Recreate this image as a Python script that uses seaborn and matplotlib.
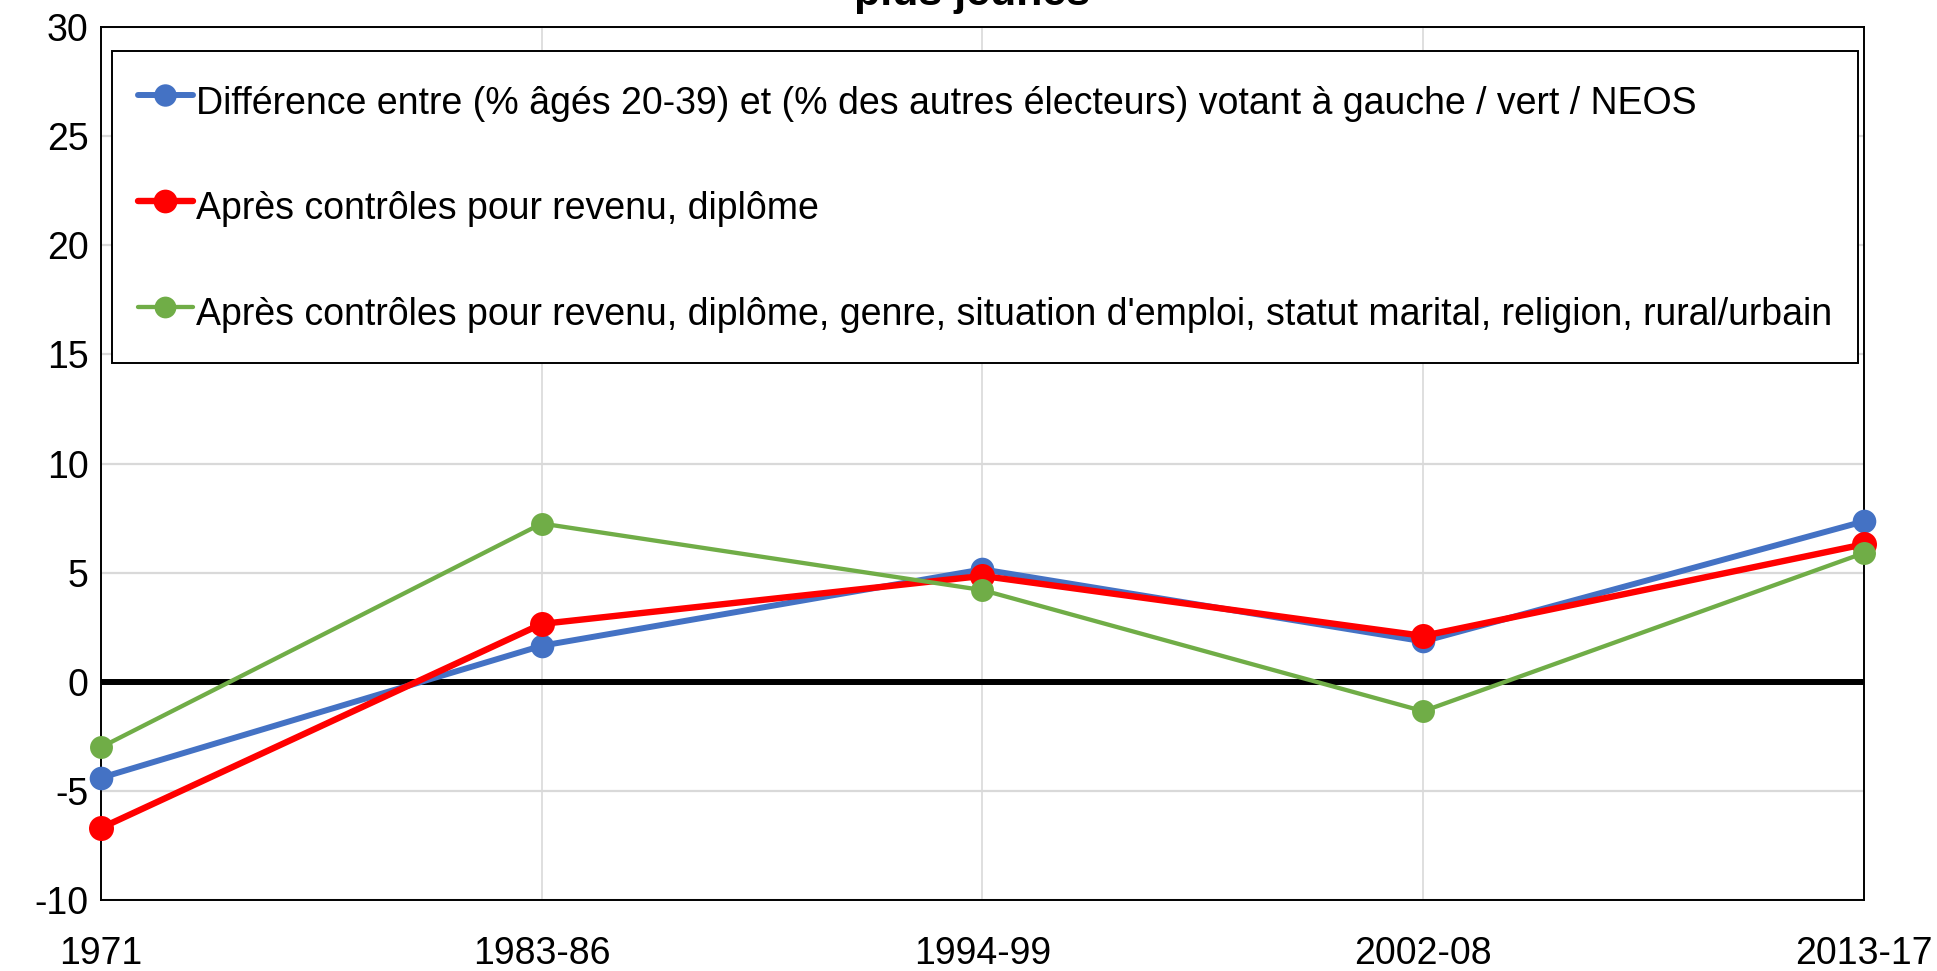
import numpy as np
import pandas as pd
import seaborn as sns
import matplotlib.pyplot as plt

periods = ["1971", "1983-86", "1994-99", "2002-08", "2013-17"]
diff_raw = [-4.4, 1.65, 5.15, 1.85, 7.35]
diff_rev_dip = [-6.7, 2.65, 4.85, 2.1, 6.3]
diff_all = [-3.0, 7.25, 4.2, -1.35, 5.9]

labels = [
    "Différence entre (% âgés 20-39) et (% des autres électeurs) votant à gauche / vert / NEOS",
    "Après contrôles pour revenu, diplôme",
    "Après contrôles pour revenu, diplôme, genre, situation d'emploi, statut marital, religion, rural/urbain",
]
colors = ["#4472C4", "#FF0000", "#70AD47"]
widths = [4.3, 4.6, 3.1]
msizes = [17, 18, 16.5]

sns.set_style("white")
plt.rcParams['font.family'] = ['Liberation Sans', 'DejaVu Sans']
plt.rcParams['axes.unicode_minus'] = False
plt.rcParams['text.color'] = 'black'
plt.rcParams['xtick.color'] = 'black'
plt.rcParams['ytick.color'] = 'black'

fig = plt.figure(figsize=(19.37, 9.71), dpi=100)
ax = fig.add_axes([101 / 1937, 1 - 900 / 971, 1763 / 1937, 873 / 971])

ax.axhline(0, color="black", lw=4.3, zorder=2)

for vals, lab, col, w, ms in zip([diff_raw, diff_rev_dip, diff_all], labels, colors, widths, msizes):
    df = pd.DataFrame({"period": periods, "value": vals})
    sns.lineplot(data=df, x="period", y="value", ax=ax, color=col, lw=w,
                 marker="o", markersize=ms, markeredgewidth=0, label=lab,
                 sort=False, zorder=3, clip_on=False)

ax.set_xlim(0, 4)
ax.set_ylim(-10, 30)
ax.set_yticks(np.arange(-10, 31, 5))
ax.set_xlabel("")
ax.set_ylabel("")
ax.grid(axis="y", color="#d9d9d9", lw=1.6, zorder=0)
ax.grid(axis="x", color="#dcdcdc", lw=1.3, zorder=0)
ax.set_axisbelow(True)
for s in ax.spines.values():
    s.set_color("black")
    s.set_linewidth(1.4)
ax.tick_params(axis="both", length=0, labelsize=27)
ax.tick_params(axis="x", pad=26)
ax.tick_params(axis="y", pad=9)

leg = ax.legend(loc="upper left", bbox_to_anchor=(0.0062, 0.9725), borderaxespad=0,
                fontsize=27, labelspacing=1.53, handlelength=1.45, handleheight=1.6,
                handletextpad=0.08, borderpad=0.7, fancybox=False, framealpha=1,
                edgecolor="black", markerscale=0.95)
leg.get_frame().set_linewidth(1.4)

fig.text(0.502, 0.995, "plus jeunes", ha="center", va="baseline",
         fontsize=31, fontweight="bold")

fig.savefig("out.png", dpi=100)
